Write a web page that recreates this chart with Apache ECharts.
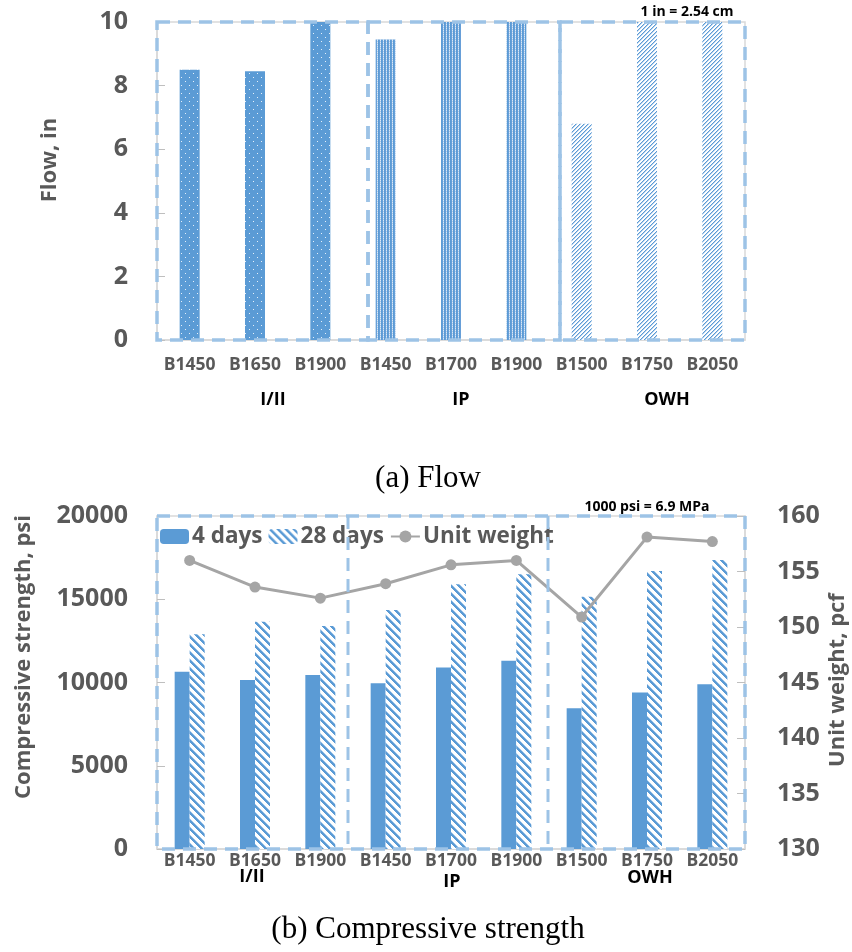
<!DOCTYPE html>
<html>
<head>
<meta charset="utf-8">
<script src="https://cdn.jsdelivr.net/npm/echarts@6/dist/echarts.min.js"></script>
<style>
html,body{margin:0;padding:0;background:#fff;}
#main{width:852px;height:952px;}
</style>
</head>
<body>
<div id="main"></div>
<script>
// ---- data ----
const categories = ['B1450','B1650','B1900','B1450','B1700','B1900','B1500','B1750','B2050'];
const groupNames = ['I/II','IP','OWH'];
const groupOf = [0,0,0,1,1,1,2,2,2];
const flowValues = [8.5, 8.45, 10, 9.45, 10, 10, 6.8, 10, 10];
const flowTicks = [0, 10, 2];
const strength4 = [10650, 10150, 10450, 9950, 10900, 11300, 8450, 9400, 9900];
const strength28 = [12900, 13650, 13400, 14350, 15900, 16500, 15150, 16700, 17350];
const unitWeight = [156.0, 153.6, 152.6, 153.9, 155.6, 156.0, 150.9, 158.1, 157.7];
const strengthTicks = [0, 20000, 5000];
const weightTicks = [130, 160, 5];
const seriesNames = ['4 days','28 days','Unit weight'];

// ---- patterns ----
const BLUE = '#5b9bd5';
function pattern(w, h, fn) {
  const c = document.createElement('canvas');
  c.width = w; c.height = h;
  const ctx = c.getContext('2d');
  fn(ctx);
  return {image: c, repeat: 'repeat'};
}
const dotPattern = pattern(8, 8, ctx => {
  ctx.fillStyle = BLUE; ctx.fillRect(0,0,8,8);
  ctx.fillStyle = 'rgba(255,255,255,0.85)';
  ctx.fillRect(1,1,1,1); ctx.fillRect(5,5,1,1);
});
const densePattern = pattern(3, 2, ctx => {
  ctx.fillStyle = '#679fd8'; ctx.fillRect(0,0,3,2);
  ctx.fillStyle = '#dce9f6';
  ctx.fillRect(2,0,1,1);
  ctx.fillStyle = '#a9c9ea';
  ctx.fillRect(2,1,1,1);
  ctx.fillStyle = BLUE;
  ctx.fillRect(0,0,1,2);
});
const lightUpPattern = pattern(4, 4, ctx => {
  ctx.fillStyle = '#ffffff'; ctx.fillRect(0,0,4,4);
  for (let i = 0; i < 4; i++) {
    ctx.fillStyle = BLUE; ctx.fillRect(3 - i, i, 1, 1);
    ctx.fillStyle = '#b7d2ee'; ctx.fillRect((4 - i) % 4, i, 1, 1);
  }
});
const wideDownPattern = pattern(8, 8, ctx => {
  ctx.fillStyle = '#ffffff'; ctx.fillRect(0,0,8,8);
  for (let y = 0; y < 8; y++) for (let x = 0; x < 8; x++) {
    const d = ((x - y) % 8 + 8) % 8;
    if (d < 3) { ctx.fillStyle = BLUE; ctx.fillRect(x, y, 1, 1); }
    else if (d === 3) { ctx.fillStyle = '#a9cbec'; ctx.fillRect(x, y, 1, 1); }
  }
});
const groupPatterns = [dotPattern, densePattern, lightUpPattern];

// ---- chart ----
const FONT = '"Open Sans"';
const GRAY = '#595959';
const DASH = '#9dc3e6';
const chart = echarts.init(document.getElementById('main'), null, {renderer: 'canvas'});

function dashedRect(x, y, w, h) {
  return {type:'rect', shape:{x, y, width:w, height:h}, z: 50, silent: true,
    style:{fill:'none', stroke: DASH, lineWidth: 3.5, lineDash:[13, 8]}};
}
function dashedLine(x, y1, y2) {
  return {type:'line', shape:{x1:x, y1:y1, x2:x, y2:y2}, z: 50, silent: true,
    style:{stroke: DASH, lineWidth: 3, lineDash:[13, 8]}};
}
function txt(text, x, y, font, color, rot) {
  return {type:'text', x, y, rotation: rot || 0, z: 60, silent: true,
    style:{text, font, fill: color || '#000', align:'center', verticalAlign:'middle'}};
}

const xLabel = (margin) => ({interval: 0, margin, color: GRAY, fontFamily: FONT, fontWeight: 'bold', fontSize: 17.5});
const yLabel = (margin) => ({margin, color: GRAY, fontFamily: FONT, fontWeight: 'bold', fontSize: 25, formatter: v => String(v)});
const axisLine = {show: true, lineStyle: {color: '#d9d9d9', width: 1.5}};
const tick = {show: true, inside: true, length: 8, lineStyle: {color: '#bfbfbf'}};

const option = {
  animation: false,
  backgroundColor: '#fff',
  grid: [
    {left: 157, right: 107, top: 22, height: 318, show: true, borderColor: '#d9d9d9', borderWidth: 1.5},
    {left: 157, right: 107, top: 516, height: 333, show: true, borderColor: '#d9d9d9', borderWidth: 1.5}
  ],
  legend: {
    left: 160, top: 525, padding: 0, itemGap: 6, itemWidth: 29, itemHeight: 15,
    selectedMode: false,
    data: seriesNames,
    textStyle: {color: GRAY, fontFamily: FONT, fontWeight: 'bold', fontSize: 22.5, padding: [0,0,0,-2]}
  },
  xAxis: [
    {type: 'category', gridIndex: 0, data: categories, axisLine, axisTick: {show: false}, axisLabel: xLabel(16)},
    {type: 'category', gridIndex: 1, data: categories, axisLine, axisTick: {show: false}, axisLabel: xLabel(3)}
  ],
  yAxis: [
    {type: 'value', gridIndex: 0, min: flowTicks[0], max: flowTicks[1], interval: flowTicks[2],
      axisLine, axisTick: tick, splitLine: {show: false}, axisLabel: yLabel(29)},
    {type: 'value', gridIndex: 1, min: strengthTicks[0], max: strengthTicks[1], interval: strengthTicks[2],
      axisLine, axisTick: tick, splitLine: {show: false}, axisLabel: yLabel(29)},
    {type: 'value', gridIndex: 1, position: 'right', min: weightTicks[0], max: weightTicks[1], interval: weightTicks[2],
      axisLine, axisTick: tick, splitLine: {show: false}, axisLabel: Object.assign(yLabel(32), {align: 'left'})}
  ],
  series: [
    {type: 'bar', name: 'Flow', xAxisIndex: 0, yAxisIndex: 0, barWidth: 20,
      data: flowValues.map((v, i) => ({value: v, itemStyle: {color: groupPatterns[groupOf[i]]}}))},
    {type: 'bar', name: seriesNames[0], xAxisIndex: 1, yAxisIndex: 1, barWidth: 15, barGap: '0%',
      itemStyle: {color: BLUE}, data: strength4},
    {type: 'bar', name: seriesNames[1], xAxisIndex: 1, yAxisIndex: 1, barWidth: 15, barGap: '0%',
      itemStyle: {color: wideDownPattern}, data: strength28},
    {type: 'line', name: seriesNames[2], xAxisIndex: 1, yAxisIndex: 2, data: unitWeight,
      symbol: 'circle', symbolSize: 11, z: 5,
      lineStyle: {color: '#a5a5a5', width: 3}, itemStyle: {color: '#a5a5a5'}}
  ],
  graphic: [
    dashedRect(157, 22, 211, 318),
    dashedRect(368, 22, 192, 318),
    dashedRect(560, 22, 185, 318),
    dashedRect(157, 516, 588, 333),
    dashedLine(348, 516, 849),
    dashedLine(548, 516, 849),
    txt('1 in = 2.54 cm', 687, 12, 'bold 14px ' + FONT, '#000'),
    txt('1000 psi = 6.9 MPa', 647, 507, 'bold 14px ' + FONT, '#000'),
    txt(groupNames[0], 273, 400, 'bold 18px ' + FONT, '#000'),
    txt(groupNames[1], 461, 400, 'bold 18px ' + FONT, '#000'),
    txt(groupNames[2], 667, 400, 'bold 18px ' + FONT, '#000'),
    txt(groupNames[0], 252, 877, 'bold 18px ' + FONT, '#000'),
    txt(groupNames[1], 452, 882, 'bold 18px ' + FONT, '#000'),
    txt(groupNames[2], 650, 878, 'bold 18px ' + FONT, '#000'),
    txt('(a) Flow', 428, 479, '31px "Liberation Serif"', '#000'),
    txt('(b) Compressive strength', 428, 930, '31px "Liberation Serif"', '#000'),
    txt('Flow, in', 50, 160, 'bold 22px ' + FONT, GRAY, Math.PI / 2),
    txt('Compressive strength, psi', 24, 657, 'bold 22px ' + FONT, GRAY, Math.PI / 2),
    txt('Unit weight, pcf', 838, 680, 'bold 22px ' + FONT, GRAY, Math.PI / 2)
  ]
};
chart.setOption(option);
</script>
</body>
</html>
